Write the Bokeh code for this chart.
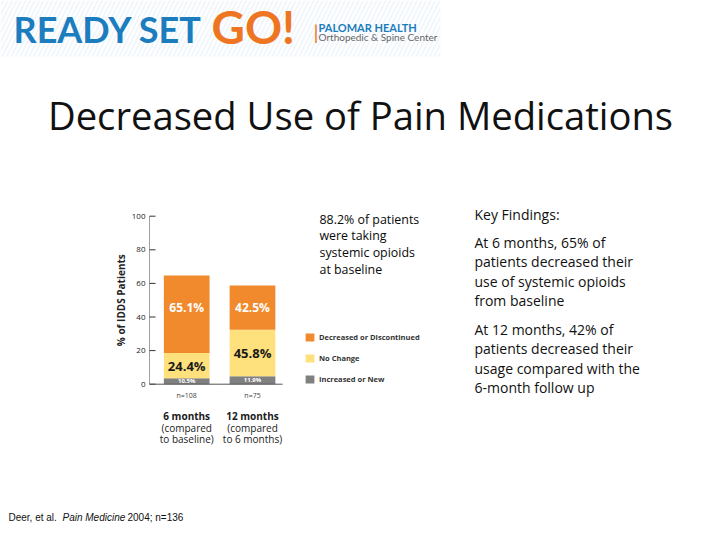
import math
from bokeh.plotting import figure
from bokeh.models import Range1d, ColumnDataSource, Legend, LegendItem
from bokeh.core.properties import value
from bokeh.embed import file_html
from bokeh.resources import INLINE

# ---------------- data ----------------
periods = ["6 months", "12 months"]
period_line2 = ["(compared", "(compared"]
period_line3 = ["to baseline)", "to 6 months)"]
sample_sizes = ["n=108", "n=75"]
# segment heights as drawn in the chart (% of IDDS patients axis)
increased = [3.6, 4.8]
no_change = [14.9, 27.6]
decreased = [46.2, 26.4]
increased_labels = ["10.5%", "11.9%"]
no_change_labels = ["24.4%", "45.8%"]
decreased_labels = ["65.1%", "42.5%"]
series_names = ["Decreased or Discontinued", "No Change", "Increased or New"]
y_ticks = [0, 20, 40, 60, 80, 100]
y_label = "% of IDDS Patients"

title = "Decreased Use of Pain Medications"
baseline_note = ["88.2% of patients", "were taking", "systemic opioids", "at baseline"]
key_title = "Key Findings:"
key_para1 = ["At 6 months, 65% of", "patients decreased their", "use of systemic opioids", "from baseline"]
key_para2 = ["At 12 months, 42% of", "patients decreased their", "usage compared with the", "6-month follow up"]

# ---------------- styling ----------------
ORANGE = "#F08A2D"
YELLOW = "#FEE07C"
GRAY = "#808080"
FONT = "Open Sans"
W, H = 720, 540

# chart placement (page pixels): value 0 at y=383.7, 100 at y=215.7; bar 0 centred at x=186.2
PX_PER_PCT = 1.68
Y0 = 383.7
PX_PER_BAR = 65.8
X0 = 186.2
BAR_XMIN, BAR_XMAX = -0.565, 1.456

p = figure(width=W, height=H, output_backend="svg", toolbar_location=None,
           x_range=Range1d(0, W), y_range=Range1d(H, 0),
           x_axis_location=None, y_axis_location=None, min_border=0)
p.outline_line_color = None
p.grid.grid_line_color = None
p.background_fill_color = "white"
p.border_fill_color = "white"
p.extra_y_ranges = {"pct": Range1d((Y0 - H) / PX_PER_PCT, Y0 / PX_PER_PCT)}
p.extra_x_ranges = {"bar": Range1d(-X0 / PX_PER_BAR, (W - X0) / PX_PER_BAR)}
CH = dict(x_range_name="bar", y_range_name="pct")


def txt(text, x, y, size, color="#111111", font=FONT, style="normal",
        align="left", baseline="middle", **kw):
    if isinstance(text, str):
        text = [text]
    n = len(text)
    xs_ = x if isinstance(x, list) else [x] * n
    ys_ = y if isinstance(y, list) else [y] * n
    p.text(x=xs_, y=ys_, text=text, text_font=value(font), text_font_size=size,
           text_font_style=style, text_color=color, text_align=align,
           text_baseline=baseline, **kw)


# header stripes
p.quad(left=[0], right=[440], top=[0], bottom=[56], fill_alpha=0, line_alpha=0,
       hatch_pattern="/", hatch_color="#c9ddef", hatch_alpha=0.25,
       hatch_scale=9, hatch_weight=2)

# ---------------- bars ----------------
xs = list(range(len(periods)))
src = ColumnDataSource(dict(x=xs, inc=increased, nc=no_change, dec=decreased))
rs = p.vbar_stack(["inc", "nc", "dec"], x="x", width=0.695, source=src,
                  color=[GRAY, YELLOW, ORANGE], line_color=None, **CH)

# axes (drawn through the chart's own ranges)
p.segment(x0=[BAR_XMIN], y0=[0], x1=[BAR_XMIN], y1=[100], line_color="#a0a0a0",
          line_width=1, **CH)
tick_len = 6 / PX_PER_BAR
p.segment(x0=[BAR_XMIN] * len(y_ticks), y0=y_ticks,
          x1=[BAR_XMIN + tick_len] * len(y_ticks), y1=y_ticks,
          line_color="#333333", line_width=1, **CH)
txt([str(t) for t in y_ticks], BAR_XMIN, y_ticks, "8px", "#222222",
    align="right", x_offset=-4, **CH)
txt(y_label, BAR_XMIN, 50, "10px", "#222222", style="bold", align="center",
    angle=math.pi / 2, x_offset=-29, **CH)
p.segment(x0=[BAR_XMIN], y0=[0], x1=[BAR_XMAX], y1=[0], line_color="#555555",
          line_width=1, **CH)
txt(sample_sizes, xs, 0, "7px", "#444444", align="center", y_offset=11, **CH)

# bar value labels
inc_y = [h / 2 for h in increased]
nc_y = [a + b / 2 for a, b in zip(increased, no_change)]
dec_y = [max(a + b + c / 2, a + b + c - 19) for a, b, c in zip(increased, no_change, decreased)]
txt(increased_labels, xs, inc_y, "6px", "white", style="bold", align="center", **CH)
txt(no_change_labels, xs, nc_y, "13px", "#1a1a1a", style="bold", align="center", **CH)
txt(decreased_labels, xs, dec_y, "12px", "white", style="bold", align="center", **CH)

# category labels below the axis
txt(periods, xs, 0, "10px", "#1a1a1a", style="bold", align="center", y_offset=32, **CH)
txt(period_line2, xs, 0, "10px", "#1a1a1a", align="center", y_offset=44, **CH)
txt(period_line3, xs, 0, "10px", "#1a1a1a", align="center", y_offset=55, **CH)

# legend
items = [LegendItem(label=series_names[0], renderers=[rs[2]]),
         LegendItem(label=series_names[1], renderers=[rs[1]]),
         LegendItem(label=series_names[2], renderers=[rs[0]])]
leg = Legend(items=items, location=(304, H - 384), padding=0, margin=0,
             border_line_color=None, background_fill_alpha=0,
             glyph_width=11, glyph_height=10, label_height=10, spacing=11,
             label_standoff=4, label_text_font=FONT, label_text_font_style="bold",
             label_text_font_size="7.5px", label_text_color="#333333")
p.add_layout(leg)

# ---------------- page texts ----------------
txt("READY SET", 13, 28, "36px", "#1B7DBD", font="Lato", style="bold")
txt("GO!", 211, 26, "46px", "#EE7623", font="Lato", style="bold")
txt("|", 313, 31, "20px", "#EE7623", font="Lato")
txt("PALOMAR HEALTH", 318, 27, "11px", "#1B7DBD", font="Lato", style="bold")
txt("Orthopedic & Spine Center", 318, 36, "10px", "#666666", font="Lato")

txt(title, 360, 114, "38.2px", "#111111", align="center", baseline="middle")

txt(baseline_note, 319, [218.5 + i * 16.7 for i in range(len(baseline_note))], "12.4px",
    "#0a0a0a")

txt(key_title, 474, 214, "14px")
txt(key_para1, 474, [242 + i * 19.3 for i in range(len(key_para1))], "14px")
txt(key_para2, 474, [329 + i * 19.3 for i in range(len(key_para2))], "14px")

txt("Deer, et al.", 8, 517, "10px", font="Liberation Sans")
txt("Pain Medicine", 62, 517, "10px", font="Liberation Sans", style="italic")
txt("2004; n=136", 127, 517, "10px", font="Liberation Sans")

open("out.html", "w").write(file_html(p, INLINE))
